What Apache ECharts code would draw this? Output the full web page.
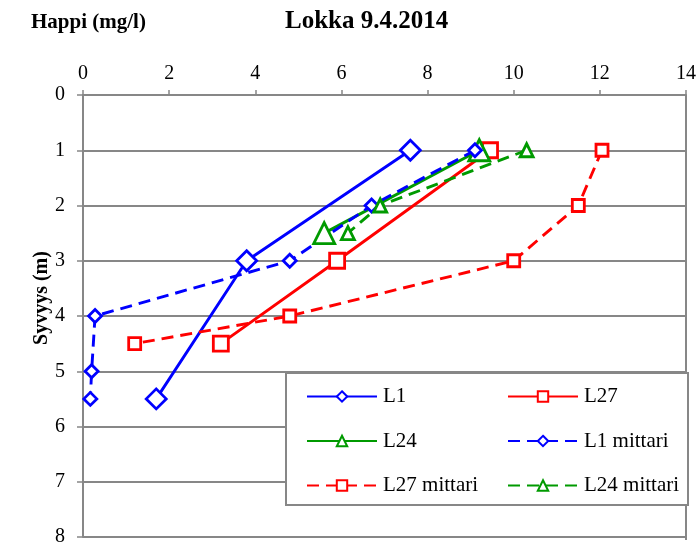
<!DOCTYPE html>
<html>
<head>
<meta charset="utf-8">
<script src="https://cdn.jsdelivr.net/npm/echarts@6/dist/echarts.min.js"></script>
<style>
  html, body { margin: 0; padding: 0; background: #fff; }
  #chart { width: 699px; height: 547px; }
</style>
</head>
<body>
<div id="chart"></div>
<script>
// Dissolved oxygen (mg/l) against depth (m), Lokka 9.4.2014
const xTicks = [0, 2, 4, 6, 8, 10, 12, 14];
const yTicks = [0, 1, 2, 3, 4, 5, 6, 7, 8];

// lab samples
const l1Oxygen = [7.6, 3.8, 1.7];
const l1Depth = [1, 3, 5.5];
const l27Oxygen = [9.45, 5.9, 3.2];
const l27Depth = [1, 3, 4.5];
const l24Oxygen = [9.2, 5.6];
const l24Depth = [1, 2.5];

// field meter readings
const l1mOxygen = [9.1, 6.7, 4.8, 0.28, 0.2, 0.17];
const l1mDepth = [1, 2, 3, 4, 5, 5.5];
const l27mOxygen = [12.05, 11.5, 10.0, 4.8, 1.2];
const l27mDepth = [1, 2, 3, 4, 4.5];
const l24mOxygen = [10.3, 6.9, 6.15];
const l24mDepth = [1, 2, 2.5];

const BLUE = '#0000ff', RED = '#ff0000', GREEN = '#009a00';
const GRID_GREY = '#878787';
const FONT = "'Liberation Serif', 'Times New Roman', serif";

function pairs(xs, ys) { return xs.map((v, i) => [v, ys[i]]); }

function makeSeries(name, xs, ys, color, symbol, size, dashed) {
  return {
    name: name,
    type: 'line',
    data: pairs(xs, ys),
    symbol: symbol,
    symbolSize: size,
    showAllSymbol: true,
    lineStyle: { color: color, width: 2.9, type: dashed ? [12, 7] : 'solid' },
    itemStyle: { color: '#ffffff', borderColor: color, borderWidth: 2.8 },
    emphasis: { disabled: true },
    z: 3
  };
}

const series = [
  makeSeries('L1', l1Oxygen, l1Depth, BLUE, 'diamond', 20, false),
  makeSeries('L27', l27Oxygen, l27Depth, RED, 'rect', 15, false),
  makeSeries('L24', l24Oxygen, l24Depth, GREEN, 'triangle', 21, false),
  makeSeries('L1 mittari', l1mOxygen, l1mDepth, BLUE, 'diamond', 13, true),
  makeSeries('L27 mittari', l27mOxygen, l27mDepth, RED, 'rect', 12, true),
  makeSeries('L24 mittari', l24mOxygen, l24mDepth, GREEN, 'triangle', 13, true)
];

const legendCommon = {
  orient: 'vertical',
  top: 386,
  padding: 0,
  itemWidth: 70,
  itemHeight: 13,
  itemGap: 23.5,
  z: 20,
  selectedMode: false,
  textStyle: { fontFamily: FONT, fontSize: 21, color: '#000', lineHeight: 18, padding: [0, 0, 0, 1] }
};

const chart = echarts.init(document.getElementById('chart'), null, { renderer: 'canvas' });
chart.setOption({
  animation: false,
  backgroundColor: '#ffffff',
  title: {
    text: 'Lokka 9.4.2014',
    left: 280,
    top: 4,
    textStyle: { fontFamily: FONT, fontSize: 25, fontWeight: 'bold', color: '#000' }
  },
  grid: { left: 83, right: 13, top: 95, bottom: 7, containLabel: false },
  xAxis: {
    type: 'value',
    position: 'top',
    min: xTicks[0],
    max: xTicks[xTicks.length - 1],
    interval: 2,
    axisLine: { show: true, lineStyle: { color: GRID_GREY, width: 2 } },
    axisTick: { show: true, inside: false, length: 5, lineStyle: { color: GRID_GREY, width: 1.5 } },
    axisLabel: { margin: 11, fontFamily: FONT, fontSize: 20, color: '#000' },
    splitLine: { show: false }
  },
  yAxis: {
    type: 'value',
    inverse: true,
    min: yTicks[0],
    max: yTicks[yTicks.length - 1],
    interval: 1,
    axisLine: { show: true, onZero: false, lineStyle: { color: GRID_GREY, width: 2 } },
    axisTick: { show: true, inside: false, length: 6, lineStyle: { color: GRID_GREY, width: 1.5 } },
    axisLabel: { margin: 18, fontFamily: FONT, fontSize: 20, color: '#000' },
    splitLine: { show: true, lineStyle: { color: GRID_GREY, width: 2 } }
  },
  legend: [
    Object.assign({}, legendCommon, { left: 306, data: ['L1', 'L24', 'L27 mittari'] }),
    Object.assign({}, legendCommon, { left: 507, data: ['L27', 'L1 mittari', 'L24 mittari'] })
  ],
  graphic: [
    {
      type: 'rect',
      z: 10,
      shape: { x: 286, y: 373, width: 402, height: 132 },
      style: { fill: '#ffffff', stroke: GRID_GREY, lineWidth: 2 }
    },
    {
      // right border of the plot frame
      type: 'line',
      z: 1,
      shape: { x1: 686, y1: 95, x2: 686, y2: 540 },
      style: { stroke: GRID_GREY, lineWidth: 2 }
    },
    {
      type: 'text',
      z: 10,
      x: 31,
      y: 23,
      style: { text: 'Happi (mg/l)', font: 'bold 21px ' + FONT, fill: '#000', verticalAlign: 'middle' }
    },
    {
      type: 'text',
      z: 10,
      x: 42,
      y: 298,
      rotation: Math.PI / 2,
      style: { text: 'Syvyys (m)', font: 'bold 20px ' + FONT, fill: '#000', align: 'center', verticalAlign: 'middle' }
    }
  ],
  series: series
});
</script>
</body>
</html>
